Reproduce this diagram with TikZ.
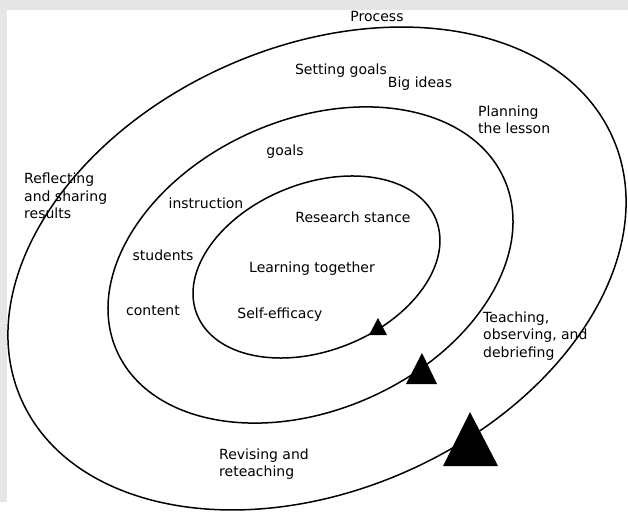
\documentclass[tikz,border=0pt]{standalone}
\usepackage{fontspec}
\setmainfont{DejaVu Sans}
\usepackage{tikz}
\usetikzlibrary{positioning}
\definecolor{framegray}{HTML}{E6E6E6}

\tikzset{
  ring/.style={line width=1.5pt},
  marker/.style={fill=black},
  lbl/.style={inner sep=0pt, font=\fontsize{14}{17.5}\selectfont, align=left},
}

\begin{document}
\begin{tikzpicture}[x=1pt,y=-1pt]
  % page
  \useasboundingbox (0,0) rectangle (628,511);
  \fill[framegray] (0,0) rectangle (628,502);
  \fill[white] (7,10) rectangle (628,511);

  % rings
  \coordinate (co) at (317,268.5);
  \coordinate (cm) at (310.5,265);
  \coordinate (ci) at (316.5,267);
  \draw[ring, rotate around={23.9:(co)}] (co) ellipse [x radius=323.4, y radius=221.8];
  \draw[ring, rotate around={23.9:(cm)}] (cm) ellipse [x radius=211.9, y radius=145.2];
  \draw[ring, rotate around={21.6:(ci)}] (ci) ellipse [x radius=128.6, y radius=83.6];

  % markers on the rings
  \fill[marker] (470,412) -- (443,466) -- (498,466) -- cycle;
  \fill[marker] (422,353) -- (406,384) -- (437,384) -- cycle;
  \fill[marker] (378,318) -- (369,335) -- (387,335) -- cycle;

  % outer ring
  \node[lbl] (process) at (377,16) {Process};
  \node[lbl] (setgoals) at (341,71) {Setting goals};
  \node[lbl] (bigideas) at (420,84) {Big ideas};
  \node[lbl, anchor=west] (planning) at (478,120) {Planning\\the lesson};
  \node[lbl, anchor=west] (reflecting) at (24,196) {Reflecting\\and sharing\\results};
  \node[lbl, anchor=west] (teaching) at (483,336) {Teaching,\\observing, and\\debriefing};
  \node[lbl, anchor=west] (revising) at (219,464) {Revising and\\reteaching};

  % middle ring
  \node[lbl] (goals) at (285,152) {goals};
  \node[lbl] (instruction) at (206,203) {instruction};
  \node[lbl] (students) at (163,255) {students};
  \node[lbl] (content) at (153,311) {content};

  % inner ring
  \node[lbl] (research) at (353,217) {Research stance};
  \node[lbl] (learning) at (312,269) {Learning together};
  \node[lbl] (selfeff) at (280,315) {Self-efficacy};
\end{tikzpicture}
\end{document}
